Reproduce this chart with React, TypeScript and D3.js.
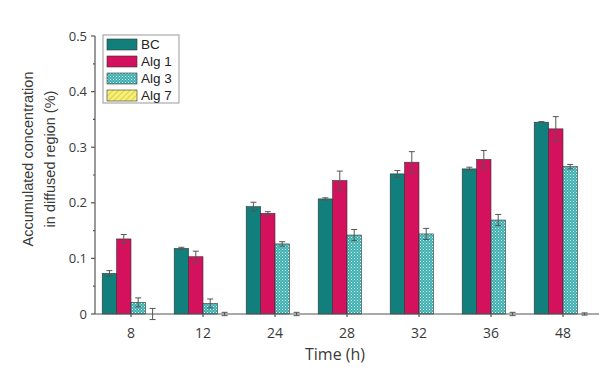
import React from "react";
import * as d3 from "d3";

// sampling times (h)
const times = ["8", "12", "24", "28", "32", "36", "48"];
const seriesNames = ["BC", "Alg 1", "Alg 3", "Alg 7"];

const bcValues = [0.073, 0.118, 0.193, 0.207, 0.252, 0.261, 0.345];
const bcErrors = [0.005, 0.002, 0.008, 0.002, 0.006, 0.003, 0.001];
const alg1Values = [0.135, 0.103, 0.181, 0.24, 0.273, 0.278, 0.333];
const alg1Errors = [0.008, 0.01, 0.003, 0.017, 0.019, 0.016, 0.022];
const alg3Values = [0.021, 0.019, 0.126, 0.142, 0.144, 0.169, 0.265];
const alg3Errors = [0.008, 0.008, 0.004, 0.01, 0.01, 0.01, 0.004];
const alg7Values = [0, 0, 0, 0, 0, 0, 0];
const alg7Errors = [0.01, 0.003, 0.003, 0, 0, 0.003, 0.002];

const yTicks = [0, 0.1, 0.2, 0.3, 0.4, 0.5];
const yMinorTicks = [0.05, 0.15, 0.25, 0.35, 0.45];

const fills = ["#11807c", "#d4115d", "url(#alg3Pat)", "url(#alg7Pat)"];

export default function App() {
  const width = 614,
    height = 371;
  const left = 95,
    right = 599,
    top = 36,
    bottom = 314;

  const x = d3.scaleBand().domain(times).range([left, right]).paddingInner(0.2).paddingOuter(0.1);
  const xs = d3.scaleBand().domain(seriesNames).range([0, x.bandwidth()]);
  const y = d3.scaleLinear().domain([0, 0.5]).range([bottom, top]);

  const series = [
    { name: "BC", values: bcValues, errors: bcErrors },
    { name: "Alg 1", values: alg1Values, errors: alg1Errors },
    { name: "Alg 3", values: alg3Values, errors: alg3Errors },
    { name: "Alg 7", values: alg7Values, errors: alg7Errors },
  ];

  const axisFont = "'Open Sans', 'DejaVu Sans', sans-serif";
  const textColor = "#3a3a3a";

  return (
    <svg
      width={width}
      height={height}
      style={{ position: "absolute", left: 0, top: 0, background: "#fff" }}
    >
      <defs>
        <pattern id="alg3Pat" width="3" height="3" patternUnits="userSpaceOnUse">
          <rect width="3" height="3" fill="#3fb0b0" />
          <rect x="0" y="0" width="1" height="1" fill="#d8f2f2" />
          <rect x="1.5" y="1.5" width="1" height="1" fill="#a8e0e0" />
        </pattern>
        <pattern
          id="alg7Pat"
          width="4"
          height="4"
          patternUnits="userSpaceOnUse"
          patternTransform="rotate(45)"
        >
          <rect width="4" height="4" fill="#f6f07a" />
          <line x1="0" y1="0" x2="0" y2="4" stroke="#d8c830" strokeWidth="1.6" />
        </pattern>
      </defs>

      {/* bars */}
      {series.map((s, si) => (
        <g key={s.name}>
          {s.values.map((v, i) => {
            const bx = (x(times[i]) as number) + (xs(s.name) as number);
            return v > 0 ? (
              <rect
                key={i}
                x={bx}
                y={y(v)}
                width={xs.bandwidth()}
                height={y(0) - y(v)}
                fill={fills[si]}
                stroke="#333"
                strokeWidth={0.6}
              />
            ) : null;
          })}
        </g>
      ))}

      {/* error bars */}
      {series.map((s) => (
        <g key={s.name + "err"} stroke="#555" strokeWidth={1}>
          {s.values.map((v, i) => {
            const e = s.errors[i];
            if (!e) return null;
            const cx = (x(times[i]) as number) + (xs(s.name) as number) + xs.bandwidth() / 2;
            return (
              <g key={i}>
                <line x1={cx} x2={cx} y1={y(v + e)} y2={y(v - e)} />
                <line x1={cx - 3} x2={cx + 3} y1={y(v + e)} y2={y(v + e)} />
                <line x1={cx - 3} x2={cx + 3} y1={y(v - e)} y2={y(v - e)} />
              </g>
            );
          })}
        </g>
      ))}

      {/* y axis */}
      <g stroke="#555" strokeWidth={1.2}>
        <line x1={left} x2={left} y1={top} y2={bottom} />
        {yTicks.map((t) => (
          <line key={t} x1={left - 4} x2={left} y1={y(t)} y2={y(t)} />
        ))}
        {yMinorTicks.map((t) => (
          <line key={t} x1={left - 2} x2={left} y1={y(t)} y2={y(t)} />
        ))}
      </g>
      {yTicks.map((t) => (
        <text
          key={t}
          x={left - 8}
          y={y(t)}
          dy="0.35em"
          textAnchor="end"
          fontSize={13}
          fontFamily={axisFont}
          fill={textColor}
        >
          {t === 0 ? "0" : d3.format(".1f")(t)}
        </text>
      ))}
      <text
        transform="translate(33,159) rotate(-90)"
        textAnchor="middle"
        fontSize={14.5}
        fontFamily="'Liberation Sans', Arial, sans-serif"
        fill={textColor}
      >
        <tspan x={0} dy={0}>Accumulated concentration</tspan>
        <tspan x={0} dy={22}>in diffused region (%)</tspan>
      </text>

      {/* x axis */}
      <g stroke="#555" strokeWidth={1.2}>
        <line x1={left} x2={right} y1={bottom} y2={bottom} />
        {times.map((t) => {
          const cx = (x(t) as number) + x.bandwidth() / 2;
          return <line key={t} x1={cx} x2={cx} y1={bottom} y2={bottom + 3} />;
        })}
      </g>
      {times.map((t) => (
        <text
          key={t}
          x={(x(t) as number) + x.bandwidth() / 2}
          y={338}
          textAnchor="middle"
          fontSize={14}
          fontFamily={axisFont}
          fill={textColor}
        >
          {t}
        </text>
      ))}
      <text
        x={335}
        y={360}
        textAnchor="middle"
        fontSize={16}
        fontFamily={axisFont}
        fill={textColor}
      >
        Time (h)
      </text>

      {/* legend */}
      <g>
        <rect x={103} y={35} width={76} height={68} fill="#fff" stroke="#999" strokeWidth={1} />
        {seriesNames.map((n, i) => (
          <g key={n} transform={`translate(107,${39 + i * 17})`}>
            <rect width={30} height={11} fill={fills[i]} stroke="#333" strokeWidth={0.6} />
            <text
              x={34}
              y={5.5}
              dy="0.36em"
              fontSize={13.5}
              fontFamily="'Liberation Sans', Arial, sans-serif"
              fill="#222"
            >
              {n}
            </text>
          </g>
        ))}
      </g>
    </svg>
  );
}
